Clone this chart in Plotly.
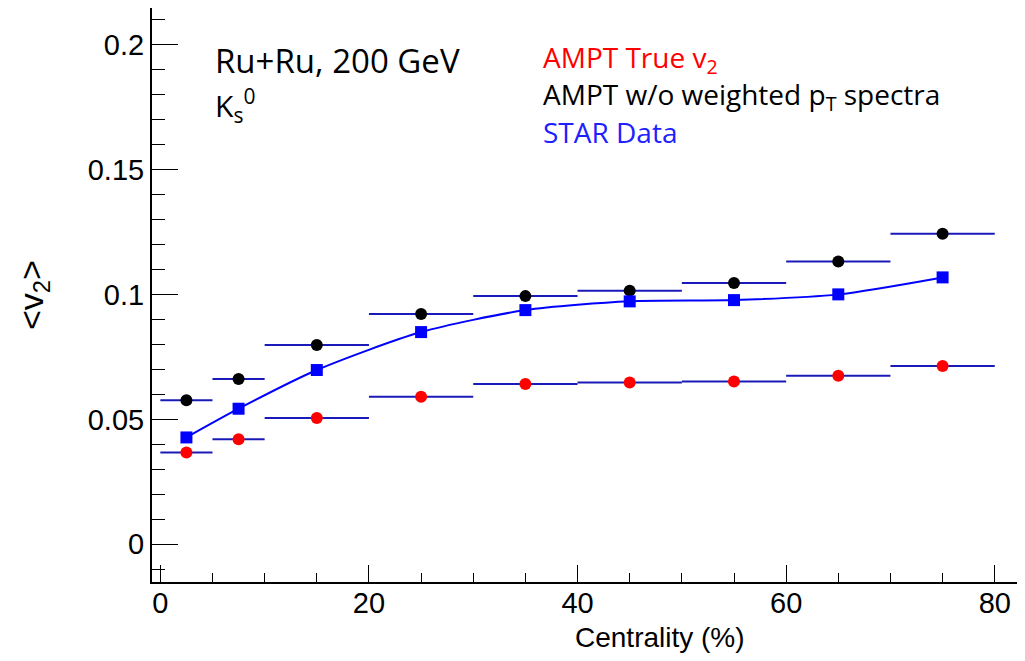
import plotly.graph_objects as go

# ---- data ----
centrality = [2.5, 7.5, 15, 25, 35, 45, 55, 65, 75]
bin_half_width = [2.5, 2.5, 5, 5, 5, 5, 5, 5, 5]
ampt_true_v2 = [0.0368, 0.0421, 0.0506, 0.0591, 0.0642, 0.0648, 0.0652, 0.0675, 0.0714]
ampt_no_weight = [0.0577, 0.0662, 0.0798, 0.0922, 0.0994, 0.1016, 0.1047, 0.1133, 0.1244]
star_data = [0.0428, 0.0543, 0.0698, 0.0850, 0.0938, 0.0973, 0.0978, 0.1001, 0.1069]
x_tick_vals = [0, 20, 40, 60, 80]
y_tick_vals = [0, 0.05, 0.1, 0.15, 0.2]
y_tick_text = ["0", "0.05", "0.1", "0.15", "0.2"]

# page body has an 8px margin, so the figure is drawn at (8, 8)
OFF = 8
W, H = 1025 - OFF, 661 - OFF
L, R, T, B = 152 - OFF, 0, 8 - OFF, 79
pw, ph = W - L - R, H - T - B

def px(x):
    return (x - OFF - L) / pw

def py(y):
    return (H - B - (y - OFF)) / ph

bar_color = "#1a1ab8"

fig = go.Figure()
fig.add_trace(go.Scatter(
    x=centrality, y=ampt_true_v2, mode="markers",
    marker=dict(color="#ff0000", size=12, symbol="circle"),
    error_x=dict(type="data", array=bin_half_width, symmetric=True, color=bar_color, thickness=2, width=0),
    showlegend=False))
fig.add_trace(go.Scatter(
    x=centrality, y=ampt_no_weight, mode="markers",
    marker=dict(color="#000000", size=12, symbol="circle"),
    error_x=dict(type="data", array=bin_half_width, symmetric=True, color=bar_color, thickness=2, width=0),
    showlegend=False))
fig.add_trace(go.Scatter(
    x=centrality, y=star_data, mode="lines+markers",
    line=dict(color="#0000ff", width=2, shape="spline", smoothing=0.7),
    marker=dict(color="#0000ff", size=12, symbol="square"),
    showlegend=False))

tick_font = dict(family="Liberation Sans, Arial, sans-serif", size=29, color="black")

fig.update_xaxes(
    range=[-0.8, 82.9], showgrid=False, zeroline=False, automargin=False,
    showline=True, linecolor="black", linewidth=2, mirror=True,
    ticks="inside", ticklen=17, tickwidth=1, tickcolor="black",
    tickmode="array", tickvals=x_tick_vals, tickfont=tick_font,
    ticklabelstandoff=-6,
    minor=dict(ticks="inside", ticklen=9, tick0=0, dtick=5, tickcolor="black", tickwidth=1),
)
fig.update_yaxes(
    range=[-0.0151, 0.2148], showgrid=False, zeroline=False, automargin=False,
    showline=True, linecolor="black", linewidth=2,
    ticks="inside", ticklen=26, tickwidth=1, tickcolor="black",
    tickmode="array", tickvals=y_tick_vals, ticktext=y_tick_text, tickfont=tick_font,
    minor=dict(ticks="inside", ticklen=13, tick0=0, dtick=0.01, tickcolor="black", tickwidth=1),
)

label_font = "Open Sans, sans-serif"
annotations = [
    dict(text="Ru+Ru, 200 GeV", x=px(213), y=py(60), xanchor="left", yanchor="middle",
         font=dict(family=label_font, size=33, color="black")),
    dict(text="K<sub>s</sub><sup>0</sup>", x=px(213), y=py(105), xanchor="left", yanchor="middle",
         font=dict(family=label_font, size=30, color="black")),
    dict(text="AMPT True v<sub>2</sub>", x=px(541), y=py(59), xanchor="left", yanchor="middle",
         font=dict(family=label_font, size=28, color="#ff0000")),
    dict(text="AMPT w/o weighted p<sub>T</sub> spectra", x=px(541), y=py(96), xanchor="left", yanchor="middle",
         font=dict(family=label_font, size=28, color="black")),
    dict(text="STAR Data", x=px(541), y=py(132), xanchor="left", yanchor="middle",
         font=dict(family=label_font, size=28, color="#2020ff")),
    dict(text="Centrality (%)", x=px(660), y=py(637), xanchor="center", yanchor="middle",
         font=dict(family="Liberation Sans, Arial, sans-serif", size=28, color="black")),
    dict(text="&lt;v<sub>2</sub>&gt;", x=px(33), y=py(295), xanchor="center", yanchor="middle",
         textangle=-90, font=dict(family="Liberation Sans, Arial, sans-serif", size=34, color="black")),
]
for a in annotations:
    a.update(xref="paper", yref="paper", showarrow=False)

fig.update_layout(
    width=W, height=H,
    margin=dict(l=L, r=R, t=T, b=B, pad=0),
    paper_bgcolor="white", plot_bgcolor="white",
    annotations=annotations,
)

fig.write_html("out.html")
